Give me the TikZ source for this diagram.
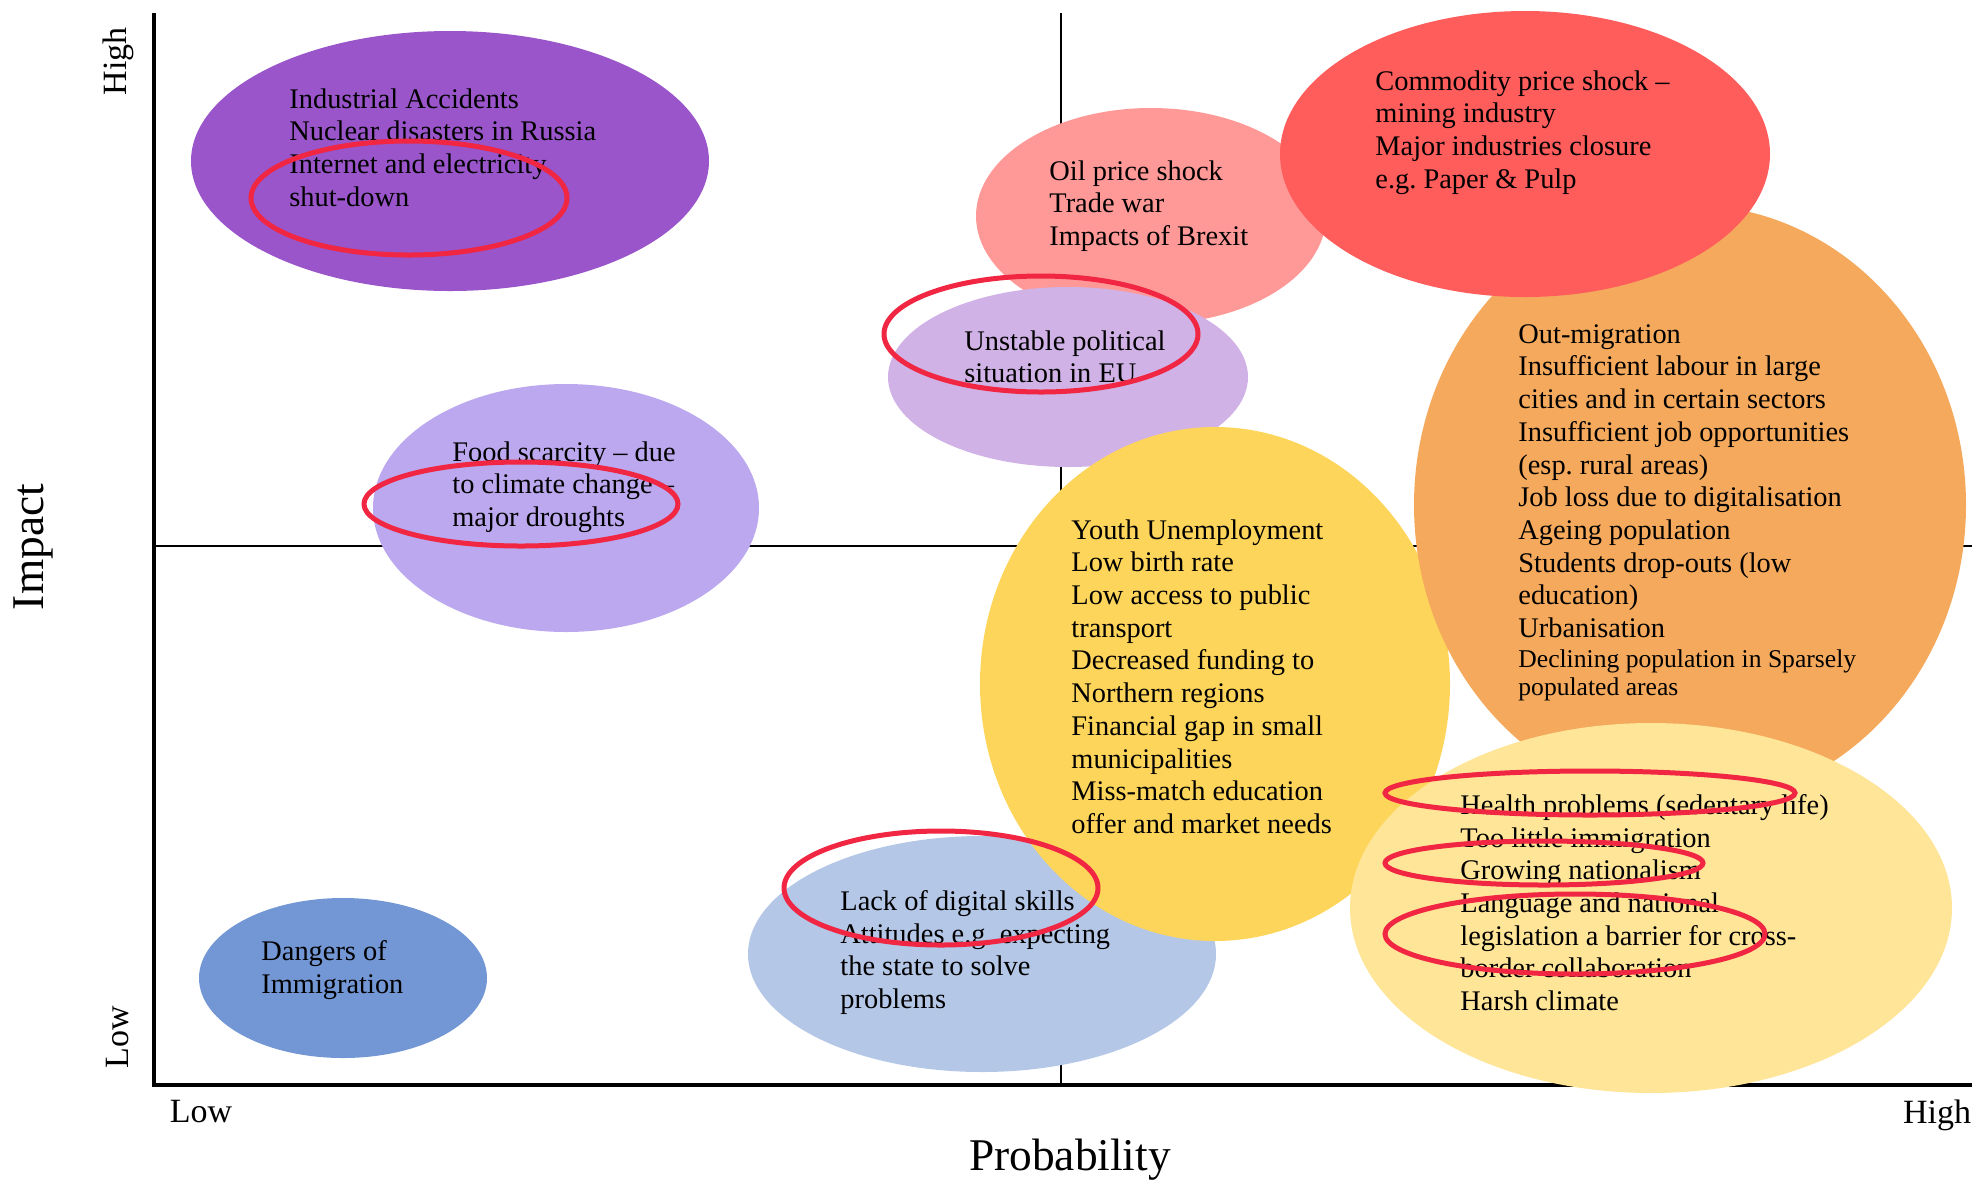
\documentclass[tikz,border=0pt]{standalone}
\usepackage{fontspec}
\setmainfont{Liberation Serif}
\usepackage{tikz}
\usetikzlibrary{shapes.geometric}
\frenchspacing

\definecolor{cAccident}{RGB}{153,85,201}
\definecolor{cFood}{RGB}{188,168,238}
\definecolor{cDanger}{RGB}{115,150,212}
\definecolor{cOil}{RGB}{255,153,152}
\definecolor{cPolitics}{RGB}{208,178,230}
\definecolor{cDigital}{RGB}{180,199,231}
\definecolor{cYouth}{RGB}{254,213,91}
\definecolor{cMigration}{RGB}{244,169,92}
\definecolor{cCommodity}{RGB}{255,92,92}
\definecolor{cHealth}{RGB}{255,229,152}
\definecolor{cRing}{RGB}{240,38,66}

\begin{document}
\begin{tikzpicture}[x=0.5pt, y=-0.5pt,
                    bubble/.style={ellipse, inner sep=0pt, draw=none},
                    ring/.style={ellipse, inner sep=0pt, draw=cRing, line width=2.5pt},
                    risk/.style={anchor=north west, inner sep=0pt, align=left,
                                 font=\fontsize{14.2}{16.35}\selectfont},
                    tick/.style={inner sep=0pt, font=\fontsize{17}{20}\selectfont},
                    axistitle/.style={inner sep=0pt, font=\fontsize{22.7}{26}\selectfont}]
    \useasboundingbox (0,0) rectangle (1972,1180);

    \coordinate (origin)   at (154,1085);
    \coordinate (ytop)     at (154,13);
    \coordinate (xend)     at (1972,1085);
    \coordinate (midtop)   at (1061,13);
    \coordinate (midbot)   at (1061,1085);
    \coordinate (midleft)  at (154,546);
    \coordinate (midright) at (1972,546);
    \draw[line width=0.65pt] (midtop) -- (midbot);
    \draw[line width=0.65pt] (midleft) -- (midright);
    \draw[line width=2pt, line join=miter] (ytop) -- (origin) -- (xend);

    \node[tick, rotate=90] (yhigh) at (118,61)   {High};
    \node[tick, rotate=90] (ylow)  at (118,1037) {Low};
    \node[tick] (xlow)  at (201,1112)  {Low};
    \node[tick] (xhigh) at (1937,1115) {High};
    \node[axistitle, rotate=90] (impact) at (33,547) {Impact};
    \node[axistitle] (probability) at (1070,1160) {Probability};

    \node[bubble, fill=cAccident,  minimum width=259pt, minimum height=130pt] (accidents) at (450,161)  {};
    \node[bubble, fill=cFood,      minimum width=193pt, minimum height=124pt] (food)      at (566,508)  {};
    \node[bubble, fill=cDanger,    minimum width=144pt, minimum height=80pt]  (dangers)   at (343,978)  {};
    \node[bubble, fill=cOil,       minimum width=175pt, minimum height=108pt] (oil)       at (1151,216) {};
    \node[bubble, fill=cPolitics,  minimum width=180pt, minimum height=90pt]  (politics)  at (1068,377) {};
    \node[bubble, fill=cDigital,   minimum width=234pt, minimum height=118pt] (digital)   at (982,954)  {};
    \node[bubble, fill=cYouth,     minimum width=235pt, minimum height=257pt] (youth)     at (1215,684) {};
    \node[bubble, fill=cMigration, minimum width=276pt, minimum height=300pt] (migration) at (1690,505) {};
    \node[bubble, fill=cCommodity, minimum width=245pt, minimum height=143pt] (commodity) at (1525,154) {};
    \node[bubble, fill=cHealth,    minimum width=301pt, minimum height=185pt] (health)    at (1651,908) {};

    \node[risk] (accidentsText) at (289,88) {Industrial Accidents\\Nuclear disasters in Russia\\Internet and electricity\\shut-down};
    \node[risk] (foodText) at (452,441) {Food scarcity – due\\to climate change –\\major droughts};
    \node[risk] (dangersText) at (261,940) {Dangers of\\Immigration};
    \node[risk] (oilText) at (1049,160) {Oil price shock\\Trade war\\Impacts of Brexit};
    \node[risk] (politicsText) at (964,330) {Unstable political\\situation in EU};
    \node[risk] (digitalText) at (840,890) {Lack of digital skills\\Attitudes e.g. expecting\\the state to solve\\problems};
    \node[risk] (youthText) at (1071,519) {Youth Unemployment\\Low birth rate\\Low access to public\\transport\\Decreased funding to\\Northern regions\\Financial gap in small\\municipalities\\Miss-match education\\offer and market needs};
    \node[risk] (migrationText) at (1518,324) {Out-migration\\Insufficient labour in large\\cities and in certain sectors\\Insufficient job opportunities\\(esp. rural areas)\\Job loss due to digitalisation\\Ageing population\\Students drop-outs (low\\education)\\Urbanisation};
    \node[risk, font=\fontsize{12.8}{14.3}\selectfont] (migrationMore) at (1518,649) {Declining population in Sparsely\\populated areas};
    \node[risk] (commodityText) at (1375,70) {Commodity price shock –\\mining industry\\Major industries closure\\e.g. Paper \& Pulp};
    \node[risk] (healthText) at (1460,794) {Health problems (sedentary life)\\Too little immigration\\Growing nationalism\\Language and national\\legislation a barrier for cross-\\border collaboration\\Harsh climate};

    \node[ring, minimum width=158pt, minimum height=57pt] (ringAccidents)   at (409,198)  {};
    \node[ring, minimum width=157pt, minimum height=58pt] (ringPolitics)    at (1041,334) {};
    \node[ring, minimum width=157pt, minimum height=42pt] (ringFood)        at (521,504)  {};
    \node[ring, minimum width=157pt, minimum height=57pt] (ringDigital)     at (941,888)  {};
    \node[ring, minimum width=205pt, minimum height=22pt] (ringHealth)      at (1590,793) {};
    \node[ring, minimum width=159pt, minimum height=22pt] (ringNationalism) at (1544,863) {};
    \node[ring, minimum width=190pt, minimum height=40pt] (ringLanguage)    at (1575,934) {};
\end{tikzpicture}
\end{document}
